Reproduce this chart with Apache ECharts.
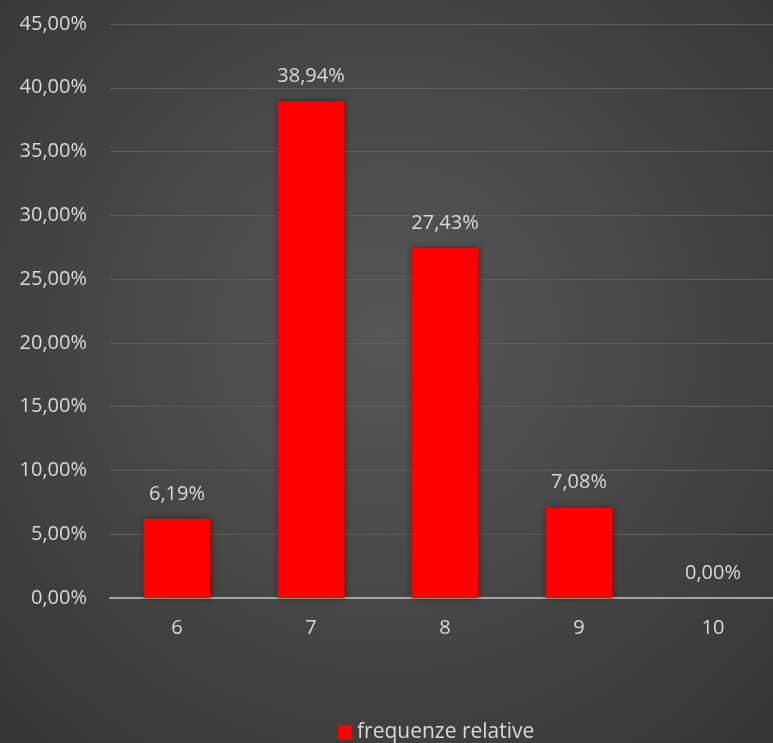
<!DOCTYPE html>
<html><head><meta charset="utf-8">
<script src="https://cdn.jsdelivr.net/npm/echarts@6/dist/echarts.min.js"></script>
<style>html,body{margin:0;padding:0;background:#3a3a3a}#c{width:773px;height:743px}</style>
</head><body><div id="c"></div>
<script>
const categories = ['6', '7', '8', '9', '10'];
const values = [6.19, 38.94, 27.43, 7.08, 0.00];
const seriesName = 'frequenze relative';
const yTicks = [0, 5, 10, 15, 20, 25, 30, 35, 40, 45];

const fmt = v => v.toFixed(2).replace('.', ',') + '%';
const chart = echarts.init(document.getElementById('c'), null, {renderer: 'canvas'});
const font = 'Open Sans';
chart.setOption({
  backgroundColor: {type: 'radial', x: 0.5, y: 0.45, r: 0.75,
    colorStops: [{offset: 0, color: '#575757'}, {offset: 1, color: '#363636'}]},
  textStyle: {fontFamily: font},
  animation: false,
  grid: {left: 110, width: 670, top: 24, height: 574, containLabel: false, outerBoundsMode: 'none'},
  legend: {
    data: [seriesName], bottom: 0, left: 338, padding: 0, itemWidth: 14, itemHeight: 14,
    icon: 'rect',
    textStyle: {color: '#d9d9d9', fontSize: 21, fontFamily: font}
  },
  xAxis: {
    type: 'category', data: categories,
    axisLine: {lineStyle: {color: '#a6a6a6', width: 2}},
    axisTick: {show: false},
    axisLabel: {color: '#d9d9d9', fontSize: 20, margin: 20}
  },
  yAxis: {
    type: 'value', min: yTicks[0], max: yTicks[yTicks.length - 1], interval: 5,
    axisLine: {show: false}, axisTick: {show: false},
    splitLine: {lineStyle: {color: '#5e5e5e', width: 1}},
    axisLabel: {color: '#d9d9d9', fontSize: 20, margin: 23, formatter: v => fmt(v)}
  },
  series: [{
    name: seriesName, type: 'bar', data: values, barCategoryGap: '50%',
    itemStyle: {color: '#ff0000', shadowBlur: 6, shadowColor: 'rgba(0,0,0,0.45)'},
    label: {show: true, position: 'top', distance: 15, color: '#d9d9d9', fontSize: 20,
      formatter: p => fmt(p.value)}
  }]
});
</script></body></html>
